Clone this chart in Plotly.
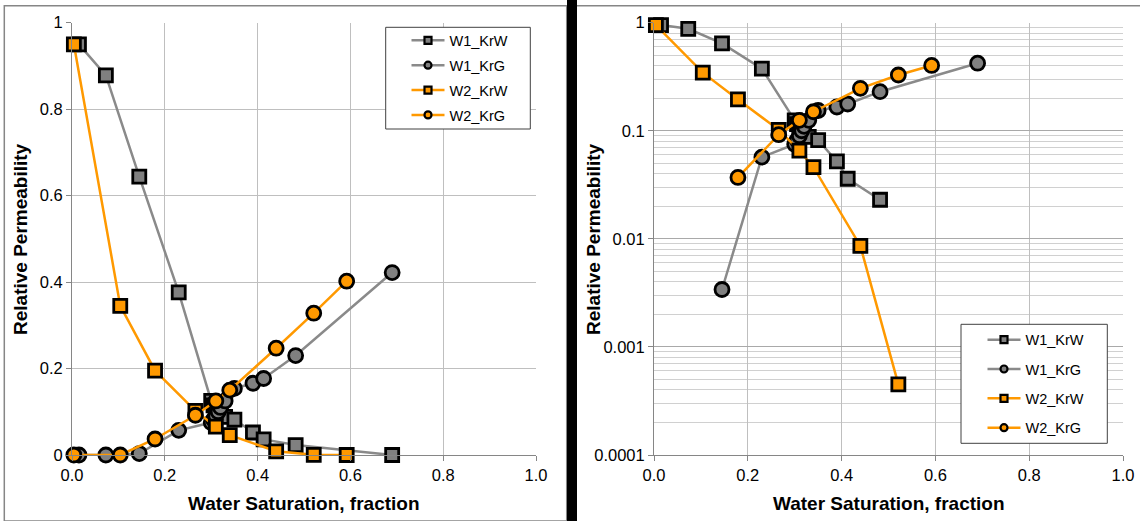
import plotly.graph_objects as go

# ---------------- data ----------------
sw_w1 = [0.015, 0.073, 0.145, 0.23, 0.30, 0.305, 0.31, 0.315, 0.32, 0.33, 0.35, 0.39, 0.413, 0.482, 0.69]
krw_w1 = [0.95, 0.878, 0.644, 0.376, 0.125, 0.115, 0.105, 0.098, 0.092, 0.088, 0.082, 0.052, 0.036, 0.023, 0.0]
krg_w1 = [0.0, 0.0, 0.0034, 0.057, 0.075, 0.082, 0.09, 0.10, 0.11, 0.125, 0.154, 0.166, 0.177, 0.23, 0.422]

sw_w2 = [0.004, 0.104, 0.179, 0.266, 0.31, 0.34, 0.44, 0.521, 0.592]
krw_w2 = [0.95, 0.345, 0.195, 0.102, 0.0655, 0.046, 0.0086, 0.00045, 0.0]
krg_w2 = [0.0, 0.0, 0.037, 0.092, 0.125, 0.15, 0.247, 0.328, 0.402]

series_names = ["W1_KrW", "W1_KrG", "W2_KrW", "W2_KrG"]
log_tick_vals = [0.0001, 0.001, 0.01, 0.1, 1]
log_tick_text = ["0.0001", "0.001", "0.01", "0.1", "1"]

# ---------------- styling ----------------
W, H = 1140, 521
GRAY = "#808080"
GRAY_LINE = "#8a8a8a"
ORANGE = "#FF9900"
GRID = "#BFBFBF"
AXIS = "#868686"
FONT = "Liberation Sans, Arial, sans-serif"

def fx(p):
    return p / W

def fy(p):
    return 1 - p / H

series = [
    (series_names[0], sw_w1, krw_w1, GRAY_LINE, GRAY, "square"),
    (series_names[1], sw_w1, krg_w1, GRAY_LINE, GRAY, "circle"),
    (series_names[2], sw_w2, krw_w2, ORANGE, ORANGE, "square"),
    (series_names[3], sw_w2, krg_w2, ORANGE, ORANGE, "circle"),
]

fig = go.Figure()

for name, xs, ys, lc, fc, sym in series:
    msize = 13 if sym == "square" else 14
    # linear chart
    fig.add_trace(go.Scatter(
        x=xs, y=ys, mode="lines+markers", name=name, showlegend=False,
        line=dict(color=lc, width=2.5),
        marker=dict(symbol=sym, size=msize, color=fc, line=dict(color="black", width=2.8)),
        cliponaxis=False, xaxis="x", yaxis="y"))
    # log chart
    ys_log = [v if v > 0 else None for v in ys]
    fig.add_trace(go.Scatter(
        x=xs, y=ys_log, mode="lines+markers", name=name, showlegend=False,
        line=dict(color=lc, width=2.5),
        marker=dict(symbol=sym, size=msize, color=fc, line=dict(color="black", width=2.8)),
        cliponaxis=False, connectgaps=False, xaxis="x2", yaxis="y2"))

# legend entries (small markers like the original legend)
for name, xs, ys, lc, fc, sym in series:
    for lg, xa, ya in (("legend", "x", "y"), ("legend2", "x2", "y2")):
        fig.add_trace(go.Scatter(
            x=[None], y=[None], mode="lines+markers", name=name,
            legend=lg, legendgroup=name + lg,
            line=dict(color=lc, width=2.5),
            marker=dict(symbol=sym, size=7, color=fc, line=dict(color="black", width=2.2)),
            xaxis=xa, yaxis=ya))

tickfont = dict(family=FONT, size=16.5, color="#000000")

common_x = dict(range=[0, 1], dtick=0.2, tick0=0, tickformat=".1f", showgrid=True,
                gridcolor=GRID, gridwidth=1, showline=True, linecolor=AXIS, linewidth=1,
                ticks="outside", ticklen=5, tickcolor=AXIS, zeroline=False, tickfont=tickfont,
                automargin=False)

fig.update_layout(
    width=W, height=H,
    margin=dict(l=0, r=0, t=0, b=0, pad=0),
    paper_bgcolor="white", plot_bgcolor="white",
    font=dict(family=FONT, color="black"),
    xaxis=dict(domain=[fx(72), fx(536)], anchor="y", **common_x),
    yaxis=dict(domain=[fy(455), fy(22.7)], anchor="x", range=[0, 1], dtick=0.2, tick0=0,
               showgrid=True, gridcolor=GRID, showline=True, linecolor=AXIS, ticks="outside",
               ticklen=5, tickcolor=AXIS, zeroline=False, tickfont=tickfont, automargin=False),
    xaxis2=dict(domain=[fx(654), fx(1123)], anchor="y2", **common_x),
    yaxis2=dict(domain=[fy(455), fy(22.7)], anchor="x2", type="log", range=[-4, 0],
                tickmode="array", tickvals=log_tick_vals, ticktext=log_tick_text,
                showgrid=True, gridcolor="#A9A9A9", showline=True, linecolor=AXIS,
                ticks="outside", ticklen=5, tickcolor=AXIS, zeroline=False, tickfont=tickfont,
                automargin=False,
                minor=dict(dtick="D1", showgrid=True, gridcolor="#D0D0D0", ticks="")),
    legend=dict(x=fx(406.5), y=fy(24.4), xanchor="left", yanchor="top",
                bgcolor="rgba(0,0,0,0)", borderwidth=0,
                font=dict(family=FONT, size=14.5, color="#000"), tracegroupgap=3,
                itemwidth=33),
    legend2=dict(x=fx(982.5), y=fy(323.7), xanchor="left", yanchor="top",
                 bgcolor="rgba(0,0,0,0)", borderwidth=0,
                 font=dict(family=FONT, size=14.5, color="#000"), tracegroupgap=7.5,
                 itemwidth=33),
    showlegend=True,
)

title_font = dict(family=FONT, size=19, color="black")
annotations = [
    dict(text="<b>Relative Permeability</b>", x=fx(20), y=fy(239), textangle=-90),
    dict(text="<b>Relative Permeability</b>", x=fx(593), y=fy(239), textangle=-90),
    dict(text="<b>Water Saturation, fraction</b>", x=fx(304), y=fy(503)),
    dict(text="<b>Water Saturation, fraction</b>", x=fx(888.5), y=fy(503)),
]
for a in annotations:
    fig.add_annotation(xref="paper", yref="paper", showarrow=False, font=title_font,
                       xanchor="center", yanchor="middle", **a)

shapes = [
    # chart-area borders and the dark divider
    dict(type="rect", x0=fx(4.3), x1=fx(566.7), y0=0, y1=fy(5.7),
         line=dict(color=AXIS, width=1.5), fillcolor="rgba(0,0,0,0)", layer="below"),
    dict(type="line", x0=fx(577), x1=1, y0=fy(5.7), y1=fy(5.7),
         line=dict(color=AXIS, width=1.5)),
    dict(type="rect", x0=fx(567), x1=fx(577), y0=0, y1=1,
         line=dict(width=0), fillcolor="black"),
    # legend boxes
    dict(type="rect", x0=fx(385.7), x1=fx(530.3), y0=fy(129), y1=fy(27.3),
         line=dict(color="#404040", width=1), fillcolor="white", layer="above"),
    dict(type="rect", x0=fx(961), x1=fx(1107.3), y0=fy(443.3), y1=fy(324.3),
         line=dict(color="#404040", width=1), fillcolor="white", layer="above"),
]
for s in shapes:
    fig.add_shape(xref="paper", yref="paper", **s)

fig.write_html("out.html")
